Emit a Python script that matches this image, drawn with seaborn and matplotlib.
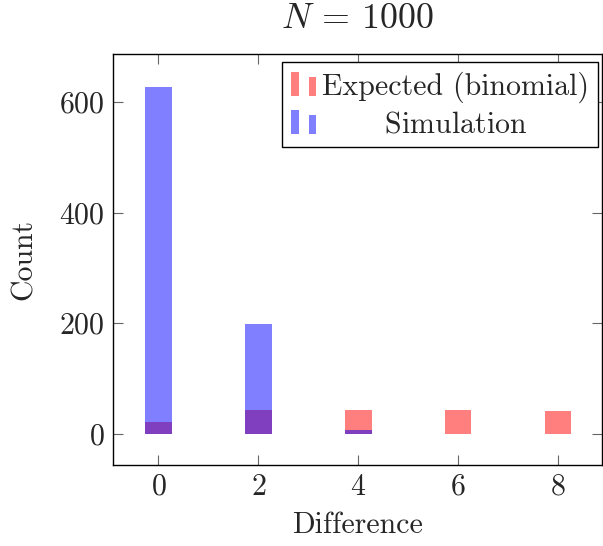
import matplotlib
matplotlib.use("Agg")
import matplotlib.pyplot as plt
from matplotlib.legend_handler import HandlerBase
from matplotlib.patches import Rectangle
import pandas as pd
import seaborn as sns

# values
differences = [0, 2, 4, 6, 8]
expected = [21, 43, 43, 42, 41]
simulation = [627, 199, 6, 0, 0]
labels = ["Expected (binomial)", "Simulation"]

sns.set_style("ticks")
plt.rcParams["font.family"] = "cmr10"
plt.rcParams["mathtext.fontset"] = "cm"
plt.rcParams["axes.formatter.use_mathtext"] = True
plt.rcParams["font.size"] = 21.5

df = pd.DataFrame({"Difference": differences, "Expected": expected, "Simulation": simulation})


class TwoBarHandler(HandlerBase):
    # pgfplots-like ybar legend image: two small bars
    def create_artists(self, legend, orig_handle, xdescent, ydescent,
                       width, height, fontsize, trans):
        fc = orig_handle.get_facecolor()
        bw = 0.3 * width
        r1 = Rectangle((-xdescent, -ydescent), bw, height,
                       facecolor=fc, edgecolor="none", transform=trans)
        r2 = Rectangle((-xdescent + width - bw, -ydescent), bw, 0.78 * height,
                       facecolor=fc, edgecolor="none", transform=trans)
        return [r1, r2]


fig = plt.figure(figsize=(6.03, 5.46), dpi=100)
ax = fig.add_axes([0.187, 0.148, 0.811, 0.753])

sns.barplot(data=df, x="Difference", y="Expected", native_scale=True, width=0.265,
            color="red", alpha=0.5, saturation=1, linewidth=0, errorbar=None, ax=ax)
sns.barplot(data=df, x="Difference", y="Simulation", native_scale=True, width=0.265,
            color="blue", alpha=0.5, saturation=1, linewidth=0, errorbar=None, ax=ax)

ax.set_xlim(-0.915, 8.875)
ax.set_ylim(-57, 687)
ax.set_xticks(differences)
ax.set_yticks([0, 200, 400, 600])
ax.tick_params(direction="in", length=7, width=0.8, color="#666666",
               top=True, right=True, pad=6)
for sp in ax.spines.values():
    sp.set_visible(True)
    sp.set_linewidth(1.0)
    sp.set_color("black")

ax.set_xlabel("Difference", labelpad=8)
ax.set_ylabel("Count", labelpad=15)
ax.set_title(r"$N$ = 1000", pad=19)

h_exp = Rectangle((0, 0), 1, 1, facecolor=(1, 0, 0, 0.5))
h_sim = Rectangle((0, 0), 1, 1, facecolor=(0, 0, 1, 0.5))
leg = ax.legend([h_exp, h_sim], [labels[0], r"$\hspace{2.4}$" + labels[1]],
                handler_map={h_exp: TwoBarHandler(), h_sim: TwoBarHandler()},
                loc="upper right", bbox_to_anchor=(0.992, 0.980), borderaxespad=0,
                borderpad=0.3, handlelength=0.83, handleheight=0.85,
                handletextpad=0.2, labelspacing=0.25,
                fancybox=False, framealpha=1, edgecolor="black")
leg.get_frame().set_linewidth(1.0)

fig.savefig("out.png", dpi=100)
